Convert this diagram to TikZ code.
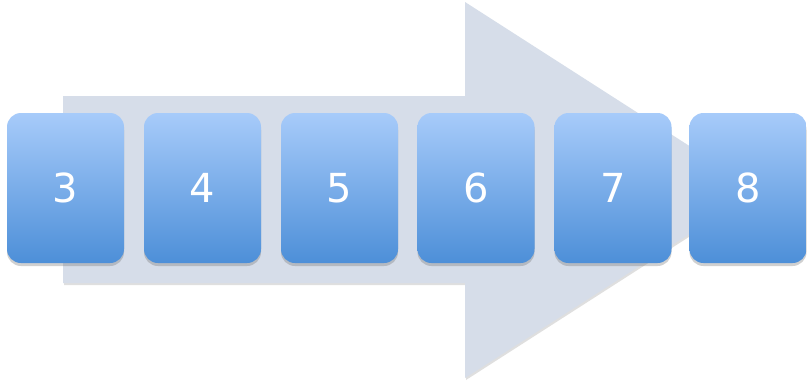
\documentclass[tikz,border=0pt]{standalone}
\usepackage{fontspec}
\setmainfont{DejaVu Sans}
\usetikzlibrary{shadows}
\definecolor{arrowgray}{HTML}{D6DDE9}
\definecolor{boxtop}{HTML}{A7CBFA}
\definecolor{boxbot}{HTML}{4D8FD8}
\tikzset{
  stepbox/.style={rectangle, rounded corners=14pt, minimum width=117pt, minimum height=150pt,
    top color=boxtop, bottom color=boxbot, draw=none, text=white,
    font=\fontsize{40}{48}\selectfont,
    drop shadow={shadow xshift=0pt, shadow yshift=-3pt, opacity=0.3, fill=black!60}},
  bigarrow/.style={fill=arrowgray, draw=none,
    drop shadow={shadow xshift=1pt, shadow yshift=-2pt, opacity=0.25, fill=black!50}}
}
\begin{document}
\begin{tikzpicture}[x=1pt,y=-1pt]
\useasboundingbox (0,0) rectangle (807,381);
\fill[white] (0,0) rectangle (807,381);
\path[bigarrow] (63,96) -- (465,96) -- (465,2) -- (758,190) -- (465,378) -- (465,283) -- (63,283) -- cycle;
\node[stepbox] (b3) at (65.5,188) {3};
\node[stepbox] (b4) at (202.5,188) {4};
\node[stepbox] (b5) at (339.5,188) {5};
\node[stepbox] (b6) at (476,188) {6};
\node[stepbox] (b7) at (613,188) {7};
\node[stepbox] (b8) at (748,188) {8};
\end{tikzpicture}
\end{document}
